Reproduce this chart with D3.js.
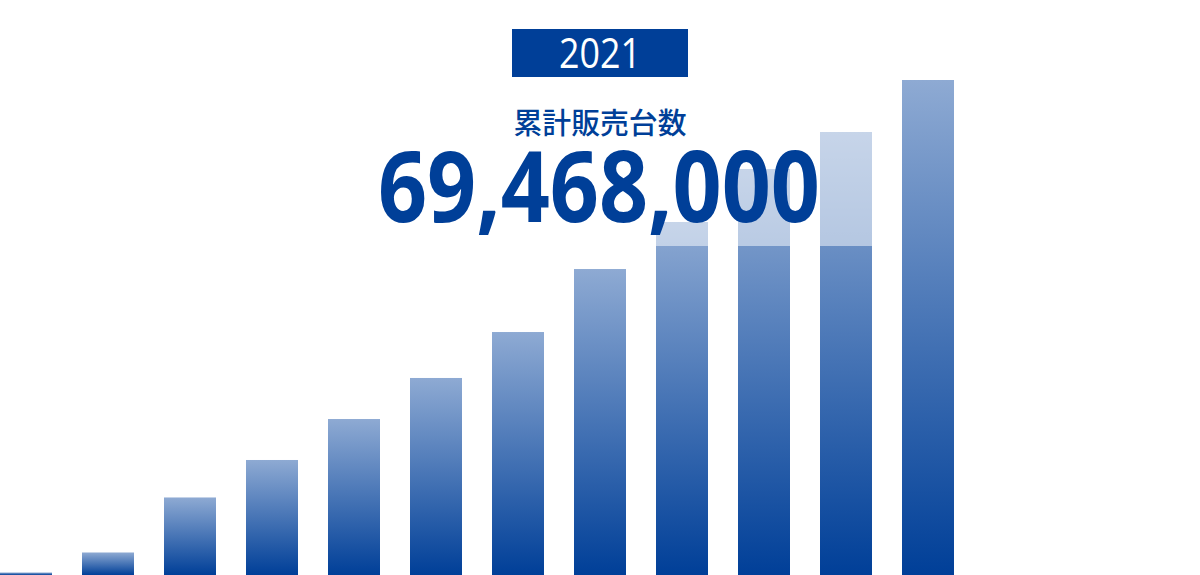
<!DOCTYPE html>
<html>
<head>
<meta charset="utf-8">
<script src="https://cdn.jsdelivr.net/npm/d3@7"></script>
<style>
  html, body { margin: 0; padding: 0; background: #fff; }
  svg { display: block; }
</style>
</head>
<body>
<svg id="chart" width="1200" height="575"></svg>
<script>
// ---- data ----
const years = ["2010","2011","2012","2013","2014","2015","2016","2017","2018","2019","2020","2021"];
const cumulativeMillions = [0.35, 3.16, 10.88, 16.14, 21.89, 27.65, 34.10, 42.94, 49.54, 56.98, 62.17, 69.468];
const currentYear = "2021";
const titleLabel = "累計販売台数";
const totalLabel = "69,468,000";

// ---- layout ----
const W = 1200, H = 575;
const blue = "#003f98";
const svg = d3.select("#chart");

const defs = svg.append("defs");
const grad = defs.append("linearGradient")
  .attr("id", "barGrad").attr("x1", 0).attr("y1", 0).attr("x2", 0).attr("y2", 1);
grad.append("stop").attr("offset", "0%").attr("stop-color", "#8eaad3");
grad.append("stop").attr("offset", "100%").attr("stop-color", "#003f98");

const x = d3.scaleBand().domain(years).range([0, 954]).paddingInner(30/82).paddingOuter(0);
const y = d3.scaleLinear().domain([0, 69.468]).range([H, 80]);

svg.append("g").selectAll("rect")
  .data(years.map((yr, i) => ({ yr, v: cumulativeMillions[i] })))
  .join("rect")
  .attr("x", d => x(d.yr))
  .attr("width", x.bandwidth())
  .attr("y", d => y(d.v))
  .attr("height", d => H - y(d.v))
  .attr("fill", "url(#barGrad)");

// translucent white panel behind the headline
svg.append("rect")
  .attr("x", 300).attr("y", 0).attr("width", 585).attr("height", 246)
  .attr("fill", "#fff").attr("opacity", 0.5);

// year badge
svg.append("rect")
  .attr("x", 512).attr("y", 29).attr("width", 176).attr("height", 48)
  .attr("fill", blue);
svg.append("text")
  .attr("x", 600).attr("y", 68)
  .attr("text-anchor", "middle")
  .attr("font-family", "'Open Sans', 'Noto Sans', sans-serif")
  .attr("font-size", 42)
  .attr("textLength", 82).attr("lengthAdjust", "spacingAndGlyphs")
  .attr("fill", "#fff")
  .text(currentYear);

svg.append("text")
  .attr("x", 600).attr("y", 134)
  .attr("text-anchor", "middle")
  .attr("font-family", "'Noto Sans CJK JP', sans-serif")
  .attr("font-weight", 500)
  .attr("font-size", 29)
  .attr("textLength", 173).attr("lengthAdjust", "spacingAndGlyphs")
  .attr("fill", blue)
  .text(titleLabel);

svg.append("text")
  .attr("x", 599).attr("y", 222)
  .attr("text-anchor", "middle")
  .attr("font-family", "'Open Sans', 'Noto Sans', sans-serif")
  .attr("font-weight", 700)
  .attr("font-size", 98)
  .attr("textLength", 442).attr("lengthAdjust", "spacingAndGlyphs")
  .attr("fill", blue)
  .text(totalLabel);
</script>
</body>
</html>
